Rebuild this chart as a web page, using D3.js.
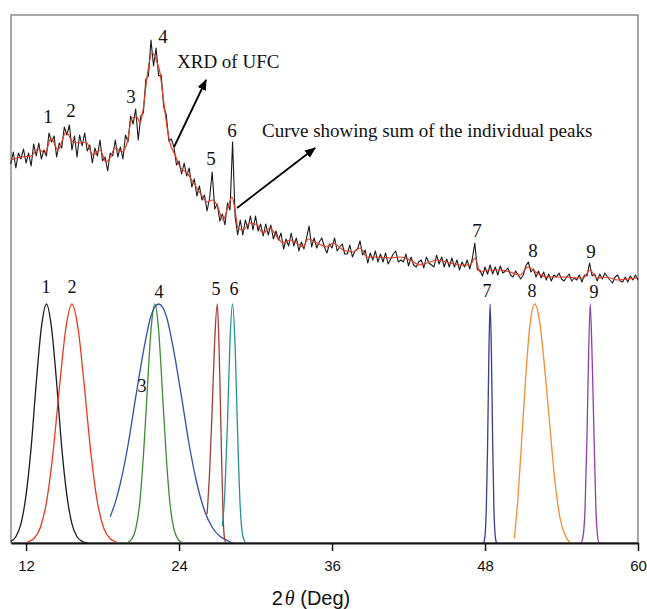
<!DOCTYPE html>
<html>
<head>
<meta charset="utf-8">
<script src="https://cdn.jsdelivr.net/npm/d3@7"></script>
<style>
  body { margin: 0; background: #fff; }
  .tick text { font-family: "Liberation Sans", Arial, sans-serif; font-size: 15px; fill: #111; }
  .lbl { font-family: "Liberation Serif", "Times New Roman", serif; fill: #111; }
</style>
</head>
<body>
<script>
'use strict';

// measured XRD pattern, one reading every 0.2 deg starting at 10.8
var scanStart = 10.8;
var scanStep = 0.2;
var scanCounts = [
    379,391,375,390,384,394,380,390,377,399,
    387,400,384,393,387,410,401,407,386,400,
    395,416,408,418,393,407,386,408,397,410,
    392,398,380,395,387,403,382,386,372,390,
    387,403,386,396,384,408,401,427,419,434,
    403,427,430,464,467,503,477,495,467,468,
    436,428,402,404,396,378,382,369,380,367,
    375,356,364,347,357,343,348,332,345,371,
    334,339,322,329,318,340,333,401,326,308,
    323,308,323,314,327,313,327,312,319,307,
    319,308,318,304,312,303,310,294,304,297,
    310,297,305,292,301,294,305,317,296,305,
    295,301,305,296,290,299,295,305,292,296,
    299,289,289,298,286,292,294,302,288,293,
    280,290,283,292,281,289,281,290,279,284,
    289,292,281,283,281,289,277,286,278,276,
    281,283,275,286,280,278,276,288,279,286,
    276,284,276,285,276,283,273,281,276,283,
    274,284,300,273,273,267,276,269,278,269,
    276,268,277,270,272,275,268,266,272,268,
    264,268,277,281,271,274,266,272,265,271,
    263,269,262,268,266,270,264,262,266,269,
    262,265,263,268,261,268,267,280,267,269,
    262,269,264,270,266,263,260,266,268,262,
    261,266,261,267,263,268,263
];

// fitted sum of the individual peaks (red)
var fitAngle = [10.82, 11.61, 12.39, 12.94, 13.49, 13.96, 14.51, 15.14, 15.69, 16.24,
    16.71, 17.25, 17.80, 18.27, 18.59, 18.98, 19.53, 19.92, 20.31, 20.71,
    20.94, 21.18, 21.49, 21.88, 22.27, 22.51, 22.75, 23.06, 23.29, 23.69,
    24.08, 24.63, 25.10, 25.65, 26.20, 26.59, 26.98, 27.45, 27.84, 28.16,
    28.39, 28.63, 29.02, 29.57, 30.12, 30.59, 31.14, 31.69, 32.16, 32.71,
    33.25, 33.73, 34.12, 34.82, 35.61, 36.08, 36.86, 37.65, 38.20, 38.75,
    39.53, 40.55, 41.33, 42.12, 42.90, 43.45, 44.24, 45.25, 46.04, 46.82,
    47.22, 47.61, 48.39, 49.18, 49.96, 50.75, 51.37, 52.08, 52.86, 53.65,
    54.43, 55.22, 55.69, 56.24, 56.78, 57.57, 58.35, 59.14, 59.92];
var fitCount = [383, 386, 387, 394, 390, 405, 393, 411, 401, 400,
    401, 388, 393, 381, 385, 395, 391, 400, 425, 426,
    420, 433, 466, 490, 481, 470, 446, 416, 400, 388,
    376, 370, 361, 350, 341, 343, 338, 323, 336, 346,
    333, 315, 313, 320, 318, 310, 315, 306, 300, 303,
    300, 296, 304, 300, 296, 300, 293, 291, 295, 286,
    286, 285, 286, 283, 278, 280, 283, 280, 278, 278,
    285, 271, 273, 273, 271, 268, 276, 270, 266, 266,
    266, 265, 265, 273, 265, 266, 263, 264, 265];

// individual peaks, [2theta, relative intensity %]
var peak1 = [[10.8,0.7],[11.2,2.6],[11.6,8],[12.0,20],[12.4,40],[12.8,67],[13.2,90],[13.6,100],[14.0,90],[14.4,67],[14.8,40],[15.2,20],[15.6,8],[16.0,2.6],[16.4,0.7],[16.8,0]];
var peak2 = [[12.1,0.4],[12.6,1.8],[13.1,6.2],[13.6,17],[14.1,37],[14.6,64],[15.1,89],[15.6,100],[16.1,89],[16.6,64],[17.1,37],[17.6,17],[18.1,6.2],[18.6,1.8],[19.1,0.4]];
var peak3 = [[20.0,0.4],[20.3,1.7],[20.6,5.8],[20.9,16],[21.2,36],[21.5,63],[21.8,89],[22.1,100],[22.4,89],[22.7,63],[23.0,36],[23.3,16],[23.6,5.8],[23.9,1.7],[24.2,0.4]];
var peak4 = [[18.6,11],[19.0,17],[19.4,25],[20.0,41],[20.6,61],[21.2,80],[21.8,95],[22.4,100],[23.0,95],[23.6,80],[24.2,61],[24.8,41],[25.4,25],[26.0,13.5],[26.6,6.6],[27.2,2.8],[27.8,1],[28.2,0]];
var peak5 = [[26.2,12],[26.4,30],[26.6,56],[26.8,85],[27.0,100],[27.15,80],[27.3,45],[27.45,12],[27.6,1],[27.7,0]];
var peak6 = [[27.4,7],[27.6,22],[27.8,50],[28.0,85],[28.2,100],[28.4,82],[28.6,45],[28.8,15],[29.0,3],[29.2,0.3]];
var peak7 = [[47.9,0],[48.0,3],[48.1,14],[48.2,40],[48.3,78],[48.4,100],[48.5,80],[48.6,42],[48.7,14],[48.8,3],[48.9,0]];
var peak8 = [[50.3,2],[50.6,20],[50.9,45],[51.2,70],[51.5,90],[51.9,100],[52.3,92],[52.7,72],[53.1,48],[53.5,25],[53.9,10],[54.3,3],[54.7,0]];
var peak9 = [[55.55,0],[55.7,3],[55.85,15],[56.0,45],[56.1,72],[56.25,100],[56.4,78],[56.55,45],[56.7,14],[56.85,2],[56.95,0]];
var peaks = [peak1, peak2, peak3, peak4, peak5, peak6, peak7, peak8, peak9];
var peakColors = ['#1c1c1c', '#f0361f', '#3d8b33', '#3150a8', '#a63b38', '#20968f', '#3a3d96', '#fb8a2c', '#8d42a2'];

// peak numbers on the pattern and on the components
var peakNames = ['1', '2', '3', '4', '5', '6', '7', '8', '9'];
var topLabelAngle = [13.73, 15.53, 20.24, 22.75, 26.51, 28.16, 47.37, 51.76, 56.31];
var topLabelCount = [420, 426, 440, 500, 378, 406, 306, 286, 285];
var lowLabelAngle = [13.57, 15.61, 21.10, 22.43, 26.90, 28.31, 48.16, 51.69, 56.55];
var lowLabelLevel = [104.6, 104.6, 63.2, 102.5, 103.8, 103.8, 102.9, 102.9, 102.5];

var xTicks = [12, 24, 36, 48, 60];

var svg = d3.select('body').append('svg')
    .attr('width', 647)
    .attr('height', 609);

var x = d3.scaleLinear().domain([10.82, 60]).range([11, 638]);
var yCount = d3.scaleLinear().domain([0, 528]).range([543, 15]);
var yPeak = d3.scaleLinear().domain([0, 100]).range([543, 304]);

// frame
svg.append('rect')
    .attr('x', 11).attr('y', 15)
    .attr('width', 627).attr('height', 528)
    .attr('fill', 'none')
    .attr('stroke', '#6e6e6e')
    .attr('stroke-width', 1.2);

// component peaks
var peakLine = d3.line()
    .x(function(d){ return x(d[0]); })
    .y(function(d){ return yPeak(d[1]); })
    .curve(d3.curveMonotoneX);

svg.selectAll('path.peak')
    .data(peaks)
    .enter()
    .append('path')
    .attr('class', 'peak')
    .attr('d', peakLine)
    .attr('fill', 'none')
    .attr('stroke', function(d, i){ return peakColors[i]; })
    .attr('stroke-width', 1.3);

// raw pattern
var scanLine = d3.line()
    .x(function(d, i){ return x(scanStart + i * scanStep); })
    .y(function(d){ return yCount(d); });

svg.append('path')
    .attr('d', scanLine(scanCounts))
    .attr('fill', 'none')
    .attr('stroke', '#1a1a1a')
    .attr('stroke-width', 1.1)
    .attr('stroke-linejoin', 'round');

// fitted curve
var fitLine = d3.line()
    .x(function(d){ return x(d); })
    .y(function(d, i){ return yCount(fitCount[i]); })
    .curve(d3.curveMonotoneX);

svg.append('path')
    .attr('d', fitLine(fitAngle))
    .attr('fill', 'none')
    .attr('stroke', '#ea3a22')
    .attr('stroke-width', 1.2);

// x axis
var axis = svg.append('g')
    .attr('transform', 'translate(0,543)')
    .call(d3.axisBottom(x).tickValues(xTicks).tickSize(8).tickSizeOuter(0).tickPadding(9));
axis.select('.domain').attr('stroke', '#111').attr('stroke-width', 1.8);
axis.selectAll('.tick line').attr('stroke', '#111').attr('stroke-width', 1.5);

var title = svg.append('text')
    .attr('x', 311)
    .attr('y', 605)
    .attr('text-anchor', 'middle')
    .attr('font-family', '"Liberation Sans", Arial, sans-serif')
    .attr('font-size', 20)
    .attr('fill', '#111');
title.append('tspan').text('2');
title.append('tspan').attr('font-family', '"Liberation Serif", serif').attr('font-style', 'italic').attr('dx', 2).text('θ');
title.append('tspan').text(' (Deg)');

// peak numbers
svg.selectAll('text.top')
    .data(peakNames)
    .enter()
    .append('text')
    .attr('class', 'lbl top')
    .attr('x', function(d, i){ return x(topLabelAngle[i]); })
    .attr('y', function(d, i){ return yCount(topLabelCount[i]); })
    .attr('text-anchor', 'middle')
    .attr('font-size', 19)
    .text(function(d){ return d; });

svg.selectAll('text.low')
    .data(peakNames)
    .enter()
    .append('text')
    .attr('class', 'lbl low')
    .attr('x', function(d, i){ return x(lowLabelAngle[i]); })
    .attr('y', function(d, i){ return yPeak(lowLabelLevel[i]); })
    .attr('text-anchor', 'middle')
    .attr('font-size', 18)
    .text(function(d){ return d; });

// annotations with arrows
svg.append('defs').append('marker')
    .attr('id', 'head')
    .attr('markerUnits', 'userSpaceOnUse')
    .attr('markerWidth', 12)
    .attr('markerHeight', 10)
    .attr('refX', 10)
    .attr('refY', 4.5)
    .attr('orient', 'auto')
    .append('path')
    .attr('d', 'M0,0 L11,4.5 L0,9 Z')
    .attr('fill', '#000');

var notes = [
    {text: 'XRD of UFC', at: [23.84, 475], from: [23.61, 396], to: [26.12, 463]},
    {text: 'Curve showing sum of the individual peaks', at: [30.51, 406], from: [28.55, 335], to: [34.67, 395]}
];

svg.selectAll('line.arrow')
    .data(notes)
    .enter()
    .append('line')
    .attr('class', 'arrow')
    .attr('x1', function(d){ return x(d.from[0]); })
    .attr('y1', function(d){ return yCount(d.from[1]); })
    .attr('x2', function(d){ return x(d.to[0]); })
    .attr('y2', function(d){ return yCount(d.to[1]); })
    .attr('stroke', '#000')
    .attr('stroke-width', 1.8)
    .attr('marker-end', 'url(#head)');

svg.selectAll('text.note')
    .data(notes)
    .enter()
    .append('text')
    .attr('class', 'lbl note')
    .attr('x', function(d){ return x(d.at[0]); })
    .attr('y', function(d){ return yCount(d.at[1]); })
    .attr('font-size', 19)
    .text(function(d){ return d.text; });
</script>
</body>
</html>
